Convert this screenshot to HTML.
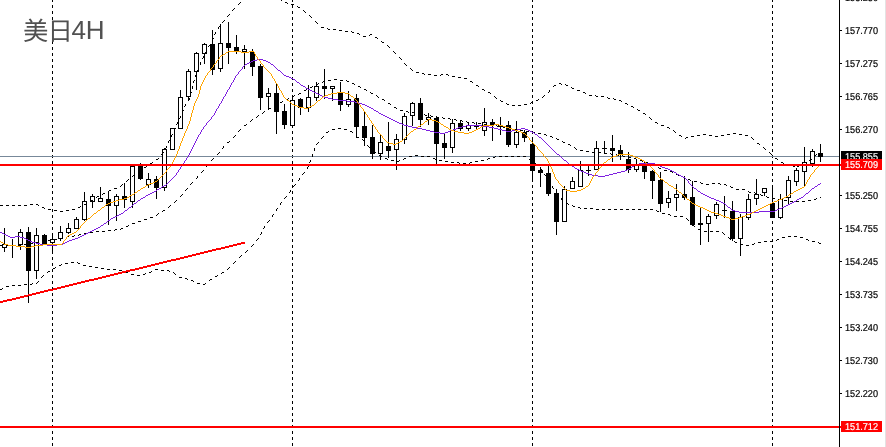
<!DOCTYPE html>
<html lang="zh"><head><meta charset="utf-8"><title>美日4H</title>
<style>html,body{margin:0;padding:0;background:#fff;overflow:hidden}svg{display:block}</style></head>
<body>
<svg width="886" height="447" viewBox="0 0 886 447" shape-rendering="crispEdges">
<rect width="886" height="447" fill="#fff"/>
<rect x="885" y="0" width="1" height="447" fill="#e3e3e3"/>
<line x1="52.5" y1="-1" x2="52.5" y2="447" stroke="#000" stroke-width="1" stroke-dasharray="3 3"/>
<line x1="292.5" y1="-1" x2="292.5" y2="447" stroke="#000" stroke-width="1" stroke-dasharray="3 3"/>
<line x1="532.5" y1="-1" x2="532.5" y2="447" stroke="#000" stroke-width="1" stroke-dasharray="3 3"/>
<line x1="772.5" y1="-1" x2="772.5" y2="447" stroke="#000" stroke-width="1" stroke-dasharray="3 3"/>
<rect x="0" y="156" width="839" height="1" fill="#778899"/>
<rect x="4" y="228" width="1" height="24" fill="#000"/>
<rect x="2" y="244" width="5" height="4" fill="#000"/><rect x="3" y="245" width="3" height="2" fill="#fff"/>
<rect x="12" y="239" width="1" height="19" fill="#000"/>
<rect x="10" y="245" width="5" height="1" fill="#000"/>
<rect x="20" y="229" width="1" height="21" fill="#000"/>
<rect x="18" y="232" width="5" height="13" fill="#000"/><rect x="19" y="233" width="3" height="11" fill="#fff"/>
<rect x="28" y="227" width="1" height="76" fill="#000"/>
<rect x="26" y="232" width="5" height="39" fill="#000"/>
<rect x="36" y="228" width="1" height="51" fill="#000"/>
<rect x="34" y="235" width="5" height="36" fill="#000"/><rect x="35" y="236" width="3" height="34" fill="#fff"/>
<rect x="44" y="234" width="1" height="11" fill="#000"/>
<rect x="42" y="235" width="5" height="9" fill="#000"/>
<rect x="52" y="233" width="1" height="21" fill="#000"/>
<rect x="50" y="239" width="5" height="4" fill="#000"/><rect x="51" y="240" width="3" height="2" fill="#fff"/>
<rect x="60" y="226" width="1" height="15" fill="#000"/>
<rect x="58" y="232" width="5" height="7" fill="#000"/><rect x="59" y="233" width="3" height="5" fill="#fff"/>
<rect x="68" y="223" width="1" height="11" fill="#000"/>
<rect x="66" y="228" width="5" height="5" fill="#000"/><rect x="67" y="229" width="3" height="3" fill="#fff"/>
<rect x="76" y="217" width="1" height="12" fill="#000"/>
<rect x="74" y="219" width="5" height="10" fill="#000"/><rect x="75" y="220" width="3" height="8" fill="#fff"/>
<rect x="84" y="192" width="1" height="29" fill="#000"/>
<rect x="82" y="201" width="5" height="19" fill="#000"/><rect x="83" y="202" width="3" height="17" fill="#fff"/>
<rect x="92" y="194" width="1" height="14" fill="#000"/>
<rect x="90" y="196" width="5" height="6" fill="#000"/><rect x="91" y="197" width="3" height="4" fill="#fff"/>
<rect x="100" y="187" width="1" height="15" fill="#000"/>
<rect x="98" y="198" width="5" height="4" fill="#000"/><rect x="99" y="199" width="3" height="2" fill="#fff"/>
<rect x="108" y="192" width="1" height="33" fill="#000"/>
<rect x="106" y="199" width="5" height="7" fill="#000"/>
<rect x="116" y="194" width="1" height="27" fill="#000"/>
<rect x="114" y="196" width="5" height="10" fill="#000"/><rect x="115" y="197" width="3" height="8" fill="#fff"/>
<rect x="124" y="183" width="1" height="25" fill="#000"/>
<rect x="122" y="196" width="5" height="4" fill="#000"/>
<rect x="132" y="166" width="1" height="42" fill="#000"/>
<rect x="130" y="166" width="5" height="36" fill="#000"/><rect x="131" y="167" width="3" height="34" fill="#fff"/>
<rect x="140" y="163" width="1" height="17" fill="#000"/>
<rect x="138" y="166" width="5" height="13" fill="#000"/>
<rect x="148" y="173" width="1" height="15" fill="#000"/>
<rect x="146" y="179" width="5" height="6" fill="#000"/><rect x="147" y="180" width="3" height="4" fill="#fff"/>
<rect x="156" y="176" width="1" height="23" fill="#000"/>
<rect x="154" y="179" width="5" height="9" fill="#000"/>
<rect x="164" y="148" width="1" height="43" fill="#000"/>
<rect x="162" y="149" width="5" height="39" fill="#000"/><rect x="163" y="150" width="3" height="37" fill="#fff"/>
<rect x="172" y="128" width="1" height="22" fill="#000"/>
<rect x="170" y="128" width="5" height="22" fill="#000"/><rect x="171" y="129" width="3" height="20" fill="#fff"/>
<rect x="180" y="90" width="1" height="39" fill="#000"/>
<rect x="178" y="97" width="5" height="32" fill="#000"/><rect x="179" y="98" width="3" height="30" fill="#fff"/>
<rect x="188" y="69" width="1" height="32" fill="#000"/>
<rect x="186" y="71" width="5" height="26" fill="#000"/><rect x="187" y="72" width="3" height="24" fill="#fff"/>
<rect x="196" y="52" width="1" height="38" fill="#000"/>
<rect x="194" y="53" width="5" height="19" fill="#000"/><rect x="195" y="54" width="3" height="17" fill="#fff"/>
<rect x="204" y="43" width="1" height="21" fill="#000"/>
<rect x="202" y="44" width="5" height="10" fill="#000"/><rect x="203" y="45" width="3" height="8" fill="#fff"/>
<rect x="212" y="30" width="1" height="45" fill="#000"/>
<rect x="210" y="44" width="5" height="26" fill="#000"/>
<rect x="220" y="24" width="1" height="48" fill="#000"/>
<rect x="218" y="43" width="5" height="26" fill="#000"/><rect x="219" y="44" width="3" height="24" fill="#fff"/>
<rect x="228" y="22" width="1" height="42" fill="#000"/>
<rect x="226" y="43" width="5" height="5" fill="#000"/>
<rect x="236" y="35" width="1" height="19" fill="#000"/>
<rect x="234" y="47" width="5" height="4" fill="#000"/>
<rect x="244" y="45" width="1" height="24" fill="#000"/>
<rect x="242" y="49" width="5" height="3" fill="#000"/><rect x="243" y="50" width="3" height="1" fill="#fff"/>
<rect x="252" y="49" width="1" height="27" fill="#000"/>
<rect x="250" y="52" width="5" height="15" fill="#000"/>
<rect x="260" y="64" width="1" height="46" fill="#000"/>
<rect x="258" y="66" width="5" height="32" fill="#000"/>
<rect x="268" y="88" width="1" height="22" fill="#000"/>
<rect x="266" y="93" width="5" height="4" fill="#000"/><rect x="267" y="94" width="3" height="2" fill="#fff"/>
<rect x="276" y="84" width="1" height="50" fill="#000"/>
<rect x="274" y="93" width="5" height="19" fill="#000"/>
<rect x="284" y="104" width="1" height="25" fill="#000"/>
<rect x="282" y="111" width="5" height="14" fill="#000"/>
<rect x="292" y="97" width="1" height="30" fill="#000"/>
<rect x="290" y="100" width="5" height="26" fill="#000"/><rect x="291" y="101" width="3" height="24" fill="#fff"/>
<rect x="300" y="98" width="1" height="17" fill="#000"/>
<rect x="298" y="99" width="5" height="9" fill="#000"/>
<rect x="308" y="85" width="1" height="27" fill="#000"/>
<rect x="306" y="97" width="5" height="11" fill="#000"/><rect x="307" y="98" width="3" height="9" fill="#fff"/>
<rect x="316" y="82" width="1" height="19" fill="#000"/>
<rect x="314" y="86" width="5" height="12" fill="#000"/><rect x="315" y="87" width="3" height="10" fill="#fff"/>
<rect x="324" y="69" width="1" height="30" fill="#000"/>
<rect x="322" y="86" width="5" height="3" fill="#000"/>
<rect x="332" y="86" width="1" height="15" fill="#000"/>
<rect x="330" y="86" width="5" height="3" fill="#000"/><rect x="331" y="87" width="3" height="1" fill="#fff"/>
<rect x="340" y="82" width="1" height="29" fill="#000"/>
<rect x="338" y="92" width="5" height="13" fill="#000"/>
<rect x="348" y="91" width="1" height="16" fill="#000"/>
<rect x="346" y="99" width="5" height="6" fill="#000"/><rect x="347" y="100" width="3" height="4" fill="#fff"/>
<rect x="356" y="94" width="1" height="44" fill="#000"/>
<rect x="354" y="98" width="5" height="29" fill="#000"/>
<rect x="364" y="112" width="1" height="34" fill="#000"/>
<rect x="362" y="126" width="5" height="12" fill="#000"/>
<rect x="372" y="125" width="1" height="34" fill="#000"/>
<rect x="370" y="137" width="5" height="17" fill="#000"/>
<rect x="380" y="134" width="1" height="26" fill="#000"/>
<rect x="378" y="142" width="5" height="12" fill="#000"/><rect x="379" y="143" width="3" height="10" fill="#fff"/>
<rect x="388" y="122" width="1" height="36" fill="#000"/>
<rect x="386" y="146" width="5" height="5" fill="#000"/>
<rect x="396" y="134" width="1" height="36" fill="#000"/>
<rect x="394" y="139" width="5" height="11" fill="#000"/><rect x="395" y="140" width="3" height="9" fill="#fff"/>
<rect x="404" y="113" width="1" height="31" fill="#000"/>
<rect x="402" y="116" width="5" height="24" fill="#000"/><rect x="403" y="117" width="3" height="22" fill="#fff"/>
<rect x="412" y="102" width="1" height="24" fill="#000"/>
<rect x="410" y="103" width="5" height="13" fill="#000"/><rect x="411" y="104" width="3" height="11" fill="#fff"/>
<rect x="420" y="98" width="1" height="29" fill="#000"/>
<rect x="418" y="103" width="5" height="17" fill="#000"/>
<rect x="428" y="113" width="1" height="12" fill="#000"/>
<rect x="426" y="117" width="5" height="3" fill="#000"/><rect x="427" y="118" width="3" height="1" fill="#fff"/>
<rect x="436" y="116" width="1" height="49" fill="#000"/>
<rect x="434" y="118" width="5" height="26" fill="#000"/>
<rect x="444" y="134" width="1" height="25" fill="#000"/>
<rect x="442" y="143" width="5" height="5" fill="#000"/>
<rect x="452" y="119" width="1" height="34" fill="#000"/>
<rect x="450" y="123" width="5" height="25" fill="#000"/><rect x="451" y="124" width="3" height="23" fill="#fff"/>
<rect x="460" y="121" width="1" height="10" fill="#000"/>
<rect x="458" y="123" width="5" height="6" fill="#000"/>
<rect x="468" y="122" width="1" height="9" fill="#000"/>
<rect x="466" y="125" width="5" height="4" fill="#000"/><rect x="467" y="126" width="3" height="2" fill="#fff"/>
<rect x="476" y="122" width="1" height="8" fill="#000"/>
<rect x="474" y="126" width="5" height="1" fill="#000"/>
<rect x="484" y="108" width="1" height="28" fill="#000"/>
<rect x="482" y="122" width="5" height="9" fill="#000"/><rect x="483" y="123" width="3" height="7" fill="#fff"/>
<rect x="492" y="119" width="1" height="22" fill="#000"/>
<rect x="490" y="122" width="5" height="3" fill="#000"/>
<rect x="500" y="117" width="1" height="18" fill="#000"/>
<rect x="498" y="125" width="5" height="2" fill="#000"/>
<rect x="508" y="121" width="1" height="26" fill="#000"/>
<rect x="506" y="125" width="5" height="20" fill="#000"/>
<rect x="516" y="121" width="1" height="27" fill="#000"/>
<rect x="514" y="132" width="5" height="13" fill="#000"/><rect x="515" y="133" width="3" height="11" fill="#fff"/>
<rect x="524" y="130" width="1" height="12" fill="#000"/>
<rect x="522" y="132" width="5" height="6" fill="#000"/>
<rect x="532" y="140" width="1" height="40" fill="#000"/>
<rect x="530" y="144" width="5" height="27" fill="#000"/>
<rect x="540" y="167" width="1" height="20" fill="#000"/>
<rect x="538" y="170" width="5" height="3" fill="#000"/>
<rect x="548" y="166" width="1" height="30" fill="#000"/>
<rect x="546" y="173" width="5" height="21" fill="#000"/>
<rect x="556" y="189" width="1" height="46" fill="#000"/>
<rect x="554" y="193" width="5" height="29" fill="#000"/>
<rect x="564" y="186" width="1" height="36" fill="#000"/>
<rect x="562" y="189" width="5" height="33" fill="#000"/><rect x="563" y="190" width="3" height="31" fill="#fff"/>
<rect x="572" y="177" width="1" height="12" fill="#000"/>
<rect x="570" y="181" width="5" height="8" fill="#000"/><rect x="571" y="182" width="3" height="6" fill="#fff"/>
<rect x="580" y="161" width="1" height="26" fill="#000"/>
<rect x="578" y="170" width="5" height="17" fill="#000"/><rect x="579" y="171" width="3" height="15" fill="#fff"/>
<rect x="588" y="166" width="1" height="10" fill="#000"/>
<rect x="586" y="170" width="5" height="1" fill="#000"/>
<rect x="596" y="141" width="1" height="29" fill="#000"/>
<rect x="594" y="148" width="5" height="22" fill="#000"/><rect x="595" y="149" width="3" height="20" fill="#fff"/>
<rect x="604" y="141" width="1" height="13" fill="#000"/>
<rect x="602" y="148" width="5" height="1" fill="#000"/>
<rect x="612" y="135" width="1" height="27" fill="#000"/>
<rect x="610" y="148" width="5" height="3" fill="#000"/>
<rect x="620" y="145" width="1" height="15" fill="#000"/>
<rect x="618" y="150" width="5" height="5" fill="#000"/>
<rect x="628" y="152" width="1" height="21" fill="#000"/>
<rect x="626" y="159" width="5" height="11" fill="#000"/>
<rect x="636" y="159" width="1" height="13" fill="#000"/>
<rect x="634" y="165" width="5" height="5" fill="#000"/><rect x="635" y="166" width="3" height="3" fill="#fff"/>
<rect x="644" y="162" width="1" height="17" fill="#000"/>
<rect x="642" y="164" width="5" height="8" fill="#000"/>
<rect x="652" y="170" width="1" height="29" fill="#000"/>
<rect x="650" y="171" width="5" height="10" fill="#000"/>
<rect x="660" y="172" width="1" height="40" fill="#000"/>
<rect x="658" y="180" width="5" height="24" fill="#000"/>
<rect x="668" y="191" width="1" height="17" fill="#000"/>
<rect x="666" y="198" width="5" height="5" fill="#000"/><rect x="667" y="199" width="3" height="3" fill="#fff"/>
<rect x="676" y="184" width="1" height="27" fill="#000"/>
<rect x="674" y="194" width="5" height="4" fill="#000"/><rect x="675" y="195" width="3" height="2" fill="#fff"/>
<rect x="684" y="176" width="1" height="24" fill="#000"/>
<rect x="682" y="194" width="5" height="4" fill="#000"/>
<rect x="692" y="181" width="1" height="45" fill="#000"/>
<rect x="690" y="197" width="5" height="28" fill="#000"/>
<rect x="700" y="208" width="1" height="37" fill="#000"/>
<rect x="698" y="223" width="5" height="2" fill="#000"/>
<rect x="708" y="214" width="1" height="28" fill="#000"/>
<rect x="706" y="216" width="5" height="8" fill="#000"/><rect x="707" y="217" width="3" height="6" fill="#fff"/>
<rect x="716" y="202" width="1" height="17" fill="#000"/>
<rect x="714" y="204" width="5" height="12" fill="#000"/><rect x="715" y="205" width="3" height="10" fill="#fff"/>
<rect x="724" y="196" width="1" height="22" fill="#000"/>
<rect x="722" y="210" width="5" height="1" fill="#000"/>
<rect x="732" y="201" width="1" height="40" fill="#000"/>
<rect x="730" y="211" width="5" height="28" fill="#000"/>
<rect x="740" y="214" width="1" height="42" fill="#000"/>
<rect x="738" y="217" width="5" height="22" fill="#000"/><rect x="739" y="218" width="3" height="20" fill="#fff"/>
<rect x="748" y="194" width="1" height="26" fill="#000"/>
<rect x="746" y="199" width="5" height="19" fill="#000"/><rect x="747" y="200" width="3" height="17" fill="#fff"/>
<rect x="756" y="179" width="1" height="26" fill="#000"/>
<rect x="754" y="194" width="5" height="5" fill="#000"/><rect x="755" y="195" width="3" height="3" fill="#fff"/>
<rect x="764" y="188" width="1" height="8" fill="#000"/>
<rect x="762" y="188" width="5" height="5" fill="#000"/><rect x="763" y="189" width="3" height="3" fill="#fff"/>
<rect x="772" y="186" width="1" height="32" fill="#000"/>
<rect x="770" y="203" width="5" height="15" fill="#000"/>
<rect x="780" y="194" width="1" height="25" fill="#000"/>
<rect x="778" y="199" width="5" height="19" fill="#000"/><rect x="779" y="200" width="3" height="17" fill="#fff"/>
<rect x="788" y="176" width="1" height="29" fill="#000"/>
<rect x="786" y="180" width="5" height="18" fill="#000"/><rect x="787" y="181" width="3" height="16" fill="#fff"/>
<rect x="796" y="168" width="1" height="18" fill="#000"/>
<rect x="794" y="170" width="5" height="12" fill="#000"/><rect x="795" y="171" width="3" height="10" fill="#fff"/>
<rect x="804" y="147" width="1" height="39" fill="#000"/>
<rect x="802" y="162" width="5" height="10" fill="#000"/><rect x="803" y="163" width="3" height="8" fill="#fff"/>
<rect x="812" y="149" width="1" height="18" fill="#000"/>
<rect x="810" y="151" width="5" height="13" fill="#000"/><rect x="811" y="152" width="3" height="11" fill="#fff"/>
<rect x="820" y="144" width="1" height="18" fill="#000"/>
<rect x="818" y="153" width="5" height="4" fill="#000"/>
<path d="M240 2h1v1h-1zM239 3h1v1h-1zM238 4h1v1h-1zM234 8h1v1h-1zM233 9h1v1h-1zM232 10h1v1h-1zM229 14h1v1h-1zM228 15h1v1h-1zM227 16h1v1h-1zM224 20h1v1h-1zM223 21h1v1h-1zM222 22h1v1h-1zM219 26h1v1h-1zM218 27h1v2h-1zM215 32h1v2h-1zM214 34h1v1h-1zM213 38h1v1h-1zM212 39h1v2h-1zM210 44h1v1h-1zM209 45h1v1h-1zM208 46h1v1h-1zM206 50h1v2h-1zM205 52h1v1h-1zM203 56h1v2h-1zM202 58h1v1h-1zM200 62h1v3h-1zM198 68h1v2h-1zM197 70h1v1h-1zM196 74h1v1h-1zM195 75h1v2h-1zM194 80h1v1h-1zM193 81h1v2h-1zM192 86h1v3h-1zM191 92h1v1h-1zM190 93h1v2h-1zM189 98h1v2h-1zM188 100h1v1h-1zM185 104h1v2h-1zM184 106h1v1h-1zM183 110h1v1h-1zM182 111h1v2h-1zM180 116h1v2h-1zM179 118h1v1h-1zM177 122h1v2h-1zM176 124h1v1h-1zM175 128h1v1h-1zM174 129h1v2h-1zM172 134h1v1h-1zM171 135h1v2h-1zM169 140h1v1h-1zM168 141h1v2h-1zM166 146h1v2h-1zM165 148h1v1h-1zM163 152h1v1h-1zM162 153h1v1h-1zM161 154h1v1h-1zM158 158h1v1h-1zM156 159h2v1h-2zM152 162h1v1h-1zM150 163h2v1h-2zM146 166h1v1h-1zM144 167h2v1h-2zM140 170h1v1h-1zM138 171h2v1h-2zM134 174h1v1h-1zM133 175h1v1h-1zM132 176h1v1h-1zM128 179h1v1h-1zM127 180h1v1h-1zM126 181h1v1h-1zM122 184h1v1h-1zM121 185h1v1h-1zM120 186h1v1h-1zM114 188h3v1h-3zM109 190h2v1h-2zM108 191h1v1h-1zM103 193h2v1h-2zM102 194h1v1h-1zM97 196h2v1h-2zM96 197h1v1h-1zM91 200h2v1h-2zM90 201h1v1h-1zM86 203h1v1h-1zM30 204h3v1h-3zM36 204h2v1h-2zM84 204h2v1h-2zM0 205h3v1h-3zM6 205h3v1h-3zM12 205h3v1h-3zM18 205h3v1h-3zM24 205h3v1h-3zM38 205h1v1h-1zM80 206h1v1h-1zM42 207h2v1h-2zM78 207h2v1h-2zM44 208h1v1h-1zM48 209h3v1h-3zM72 209h3v1h-3zM54 210h3v1h-3zM66 210h3v1h-3zM60 211h3v1h-3z" fill="#000"/>
<path d="M279 -1h2v1h-2zM281 0h1v1h-1zM285 2h2v1h-2zM287 3h1v1h-1zM291 4h3v1h-3zM297 6h1v1h-1zM298 7h2v1h-2zM303 10h1v1h-1zM304 11h1v1h-1zM305 12h1v1h-1zM309 15h1v1h-1zM310 16h1v1h-1zM311 17h1v1h-1zM315 21h1v1h-1zM316 22h1v1h-1zM317 23h1v1h-1zM321 27h3v1h-3zM327 28h1v1h-1zM328 29h2v1h-2zM333 29h3v1h-3zM339 30h3v1h-3zM345 31h3v1h-3zM351 31h1v1h-1zM352 32h2v1h-2zM357 33h2v1h-2zM359 34h1v1h-1zM370 34h2v1h-2zM369 35h1v1h-1zM363 36h3v1h-3zM375 37h2v1h-2zM377 38h1v1h-1zM381 41h1v1h-1zM382 42h2v1h-2zM387 45h1v1h-1zM388 46h1v1h-1zM389 47h1v1h-1zM393 51h1v1h-1zM394 52h1v1h-1zM395 53h1v1h-1zM399 57h1v1h-1zM400 58h1v1h-1zM401 59h1v1h-1zM404 63h1v1h-1zM405 64h1v1h-1zM406 65h1v1h-1zM410 68h1v1h-1zM411 69h1v1h-1zM412 70h1v1h-1zM416 72h3v1h-3zM422 73h2v1h-2zM424 74h1v1h-1zM428 74h3v1h-3zM441 74h2v1h-2zM446 74h2v1h-2zM434 75h3v1h-3zM440 75h1v1h-1zM448 75h1v1h-1zM452 76h3v1h-3zM458 77h3v1h-3zM464 78h3v1h-3zM470 81h2v1h-2zM472 82h1v1h-1zM559 83h2v1h-2zM561 84h1v1h-1zM565 84h1v1h-1zM476 85h2v1h-2zM554 85h2v1h-2zM566 85h2v1h-2zM478 86h1v1h-1zM553 86h1v1h-1zM571 87h1v1h-1zM572 88h2v1h-2zM482 89h2v1h-2zM484 90h1v1h-1zM549 90h1v2h-1zM577 90h3v1h-3zM488 92h2v1h-2zM548 92h1v1h-1zM583 92h2v1h-2zM490 93h1v1h-1zM585 93h1v1h-1zM544 95h1v1h-1zM589 95h3v1h-3zM595 95h1v1h-1zM494 96h1v1h-1zM543 96h1v1h-1zM596 96h2v1h-2zM601 96h3v1h-3zM495 97h1v1h-1zM542 97h1v1h-1zM607 97h1v1h-1zM496 98h1v1h-1zM608 98h2v1h-2zM613 98h1v1h-1zM538 99h1v1h-1zM614 99h2v1h-2zM500 100h1v1h-1zM536 100h2v1h-2zM619 100h2v1h-2zM501 101h2v1h-2zM621 101h1v1h-1zM531 102h2v1h-2zM506 103h1v1h-1zM530 103h1v1h-1zM625 103h2v1h-2zM507 104h2v1h-2zM524 104h3v1h-3zM627 104h1v1h-1zM512 105h3v1h-3zM518 105h3v1h-3zM631 106h2v1h-2zM633 107h1v1h-1zM637 109h1v1h-1zM638 110h2v1h-2zM643 113h2v1h-2zM645 114h1v1h-1zM649 117h1v1h-1zM650 118h1v1h-1zM651 119h1v1h-1zM655 122h2v1h-2zM657 123h1v1h-1zM661 125h3v1h-3zM667 127h2v1h-2zM669 128h1v1h-1zM673 130h1v1h-1zM674 131h1v1h-1zM675 132h1v1h-1zM733 133h3v1h-3zM703 134h3v1h-3zM727 134h3v1h-3zM739 134h3v1h-3zM679 135h2v1h-2zM697 135h3v1h-3zM709 135h3v1h-3zM721 135h3v1h-3zM745 135h3v1h-3zM681 136h1v1h-1zM691 136h3v1h-3zM715 136h3v1h-3zM686 137h2v1h-2zM751 137h1v1h-1zM685 138h1v1h-1zM752 138h1v1h-1zM753 139h1v1h-1zM757 143h2v1h-2zM759 144h1v1h-1zM763 147h1v1h-1zM764 148h1v1h-1zM765 149h1v1h-1zM769 152h1v1h-1zM770 153h1v1h-1zM771 154h1v1h-1zM775 158h2v1h-2zM777 159h1v1h-1zM781 162h2v1h-2zM783 163h1v1h-1z" fill="#000"/>
<path d="M334 79h3v1h-3zM328 80h3v1h-3zM340 80h3v1h-3zM346 80h1v1h-1zM323 81h2v1h-2zM347 81h2v1h-2zM322 82h1v1h-1zM318 83h1v1h-1zM352 83h2v1h-2zM316 84h2v1h-2zM354 84h1v1h-1zM312 86h1v1h-1zM358 86h2v1h-2zM310 87h2v1h-2zM360 87h1v1h-1zM306 89h1v1h-1zM364 89h2v1h-2zM304 90h2v1h-2zM366 90h1v1h-1zM370 92h1v1h-1zM299 93h2v1h-2zM371 93h2v1h-2zM298 94h1v1h-1zM294 95h1v1h-1zM376 95h1v1h-1zM292 96h2v1h-2zM377 96h1v1h-1zM378 97h1v1h-1zM288 98h1v1h-1zM286 99h2v1h-2zM382 99h2v1h-2zM384 100h1v1h-1zM282 101h1v1h-1zM280 102h2v1h-2zM388 103h2v1h-2zM276 104h1v1h-1zM390 104h1v1h-1zM274 105h2v1h-2zM394 107h2v1h-2zM269 108h2v1h-2zM396 108h1v1h-1zM268 109h1v1h-1zM400 110h3v1h-3zM264 111h1v1h-1zM406 111h2v1h-2zM263 112h1v1h-1zM408 112h1v1h-1zM412 112h2v1h-2zM262 113h1v1h-1zM414 113h1v1h-1zM418 113h2v1h-2zM420 114h1v1h-1zM424 114h1v1h-1zM258 115h1v1h-1zM425 115h2v1h-2zM430 115h1v1h-1zM257 116h1v1h-1zM431 116h2v1h-2zM436 116h1v1h-1zM256 117h1v1h-1zM437 117h2v1h-2zM442 117h1v1h-1zM443 118h2v1h-2zM448 118h2v1h-2zM252 119h1v1h-1zM450 119h1v1h-1zM454 119h2v1h-2zM251 120h1v1h-1zM456 120h1v1h-1zM460 120h2v1h-2zM250 121h1v1h-1zM462 121h1v1h-1zM466 121h1v1h-1zM467 122h2v1h-2zM472 122h2v1h-2zM474 123h1v1h-1zM478 123h3v1h-3zM246 124h1v1h-1zM484 124h3v1h-3zM244 125h2v1h-2zM490 125h3v1h-3zM496 125h1v1h-1zM497 126h2v1h-2zM502 126h1v1h-1zM503 127h2v1h-2zM508 128h3v1h-3zM240 129h1v1h-1zM514 129h3v1h-3zM239 130h1v1h-1zM520 130h3v1h-3zM238 131h1v1h-1zM526 131h3v1h-3zM532 132h3v1h-3zM538 133h3v1h-3zM544 134h2v1h-2zM235 135h1v1h-1zM546 135h1v1h-1zM234 136h1v1h-1zM550 136h2v1h-2zM233 137h1v1h-1zM552 137h1v1h-1zM556 138h1v1h-1zM557 139h2v1h-2zM229 141h1v1h-1zM562 141h1v1h-1zM227 142h2v1h-2zM563 142h2v1h-2zM568 144h2v1h-2zM570 145h1v1h-1zM223 146h1v2h-1zM574 147h1v1h-1zM222 148h1v1h-1zM575 148h1v1h-1zM576 149h1v1h-1zM580 150h3v1h-3zM586 151h3v1h-3zM219 152h1v1h-1zM592 152h3v1h-3zM598 152h3v1h-3zM604 152h1v1h-1zM218 153h1v1h-1zM605 153h2v1h-2zM610 153h1v1h-1zM217 154h1v1h-1zM611 154h2v1h-2zM616 154h1v1h-1zM617 155h2v1h-2zM622 155h1v1h-1zM623 156h2v1h-2zM628 157h3v1h-3zM213 158h1v1h-1zM634 158h2v1h-2zM212 159h1v1h-1zM636 159h1v1h-1zM211 160h1v1h-1zM640 160h2v1h-2zM642 161h1v1h-1zM646 162h2v1h-2zM648 163h1v1h-1zM208 164h1v1h-1zM652 164h1v1h-1zM207 165h1v1h-1zM653 165h2v1h-2zM206 166h1v1h-1zM658 167h1v1h-1zM659 168h2v1h-2zM203 170h1v1h-1zM664 170h3v1h-3zM202 171h1v1h-1zM670 171h2v1h-2zM201 172h1v1h-1zM672 172h1v1h-1zM676 174h2v1h-2zM678 175h1v1h-1zM197 176h1v2h-1zM682 176h1v1h-1zM683 177h2v1h-2zM196 178h1v1h-1zM688 179h2v1h-2zM690 180h1v1h-1zM694 181h3v1h-3zM192 182h1v1h-1zM700 182h1v1h-1zM191 183h1v1h-1zM701 183h2v1h-2zM712 183h3v1h-3zM718 183h2v1h-2zM190 184h1v1h-1zM706 184h3v1h-3zM720 184h1v1h-1zM724 184h2v1h-2zM726 185h1v1h-1zM730 186h1v1h-1zM731 187h2v1h-2zM187 188h1v1h-1zM186 189h1v1h-1zM736 189h3v1h-3zM742 189h3v1h-3zM185 190h1v1h-1zM748 191h1v1h-1zM749 192h2v1h-2zM754 192h1v1h-1zM755 193h2v1h-2zM182 194h1v1h-1zM760 194h1v1h-1zM181 195h1v1h-1zM761 195h2v1h-2zM180 196h1v1h-1zM766 196h1v1h-1zM767 197h2v1h-2zM820 197h1v1h-1zM772 198h3v1h-3zM816 198h1v1h-1zM778 199h3v1h-3zM814 199h2v1h-2zM176 200h1v1h-1zM784 200h3v1h-3zM808 200h3v1h-3zM175 201h1v1h-1zM790 201h3v1h-3zM796 201h3v1h-3zM802 201h3v1h-3zM174 202h1v1h-1zM170 205h1v1h-1zM169 206h1v1h-1zM168 207h1v1h-1zM163 210h2v1h-2zM162 211h1v1h-1zM158 213h1v1h-1zM157 214h1v1h-1zM156 215h1v1h-1zM150 217h3v1h-3zM144 219h3v1h-3zM138 221h3v1h-3zM132 223h3v1h-3zM128 225h1v1h-1zM126 226h2v1h-2zM121 228h2v1h-2zM115 229h2v1h-2zM120 229h1v1h-1zM108 230h3v1h-3zM114 230h1v1h-1zM96 231h3v1h-3zM102 231h3v1h-3zM90 232h3v1h-3zM84 233h3v1h-3zM79 234h2v1h-2zM74 235h1v1h-1zM78 235h1v1h-1zM67 236h2v1h-2zM72 236h2v1h-2zM62 237h1v1h-1zM66 237h1v1h-1zM60 238h2v1h-2zM54 239h3v1h-3zM48 240h3v1h-3zM42 241h3v1h-3zM36 242h3v1h-3zM30 243h3v1h-3zM24 244h3v1h-3zM0 245h3v1h-3zM6 245h3v1h-3zM12 245h3v1h-3zM18 245h3v1h-3z" fill="#000"/>
<path d="M338 128h3v1h-3zM332 129h3v1h-3zM344 129h3v1h-3zM328 131h1v1h-1zM350 131h2v1h-2zM326 132h2v1h-2zM352 132h1v1h-1zM323 136h1v1h-1zM356 136h1v1h-1zM322 137h1v1h-1zM357 137h2v1h-2zM321 138h1v1h-1zM362 139h1v1h-1zM363 140h1v1h-1zM364 141h1v1h-1zM318 142h1v1h-1zM317 143h1v1h-1zM316 144h1v1h-1zM367 145h1v1h-1zM368 146h1v1h-1zM369 147h1v1h-1zM314 148h1v3h-1zM373 151h1v1h-1zM374 152h2v1h-2zM312 154h1v3h-1zM379 155h2v1h-2zM415 155h3v1h-3zM381 156h1v1h-1zM409 156h3v1h-3zM421 156h3v1h-3zM427 156h3v1h-3zM495 156h1v1h-1zM499 156h3v1h-3zM505 156h3v1h-3zM511 156h3v1h-3zM517 156h3v1h-3zM523 156h3v1h-3zM493 157h2v1h-2zM385 158h2v1h-2zM404 158h2v1h-2zM433 158h2v1h-2zM488 158h2v1h-2zM387 159h1v1h-1zM403 159h1v1h-1zM435 159h1v1h-1zM487 159h1v1h-1zM529 159h2v1h-2zM310 160h1v2h-1zM391 160h3v1h-3zM399 160h1v1h-1zM439 160h3v1h-3zM481 160h3v1h-3zM531 160h1v1h-1zM397 161h2v1h-2zM445 161h3v1h-3zM475 161h3v1h-3zM309 162h1v1h-1zM451 162h3v1h-3zM457 162h2v1h-2zM470 162h2v1h-2zM459 163h1v1h-1zM463 163h3v1h-3zM469 163h1v1h-1zM535 163h1v1h-1zM536 164h1v1h-1zM537 165h1v1h-1zM308 166h1v1h-1zM307 167h1v2h-1zM540 168h1v1h-1zM541 169h1v1h-1zM542 170h1v1h-1zM304 172h1v1h-1zM303 173h1v1h-1zM302 174h1v1h-1zM544 174h1v1h-1zM545 175h1v1h-1zM546 176h1v1h-1zM299 178h1v2h-1zM298 180h1v1h-1zM548 180h1v1h-1zM549 181h1v2h-1zM295 184h1v1h-1zM294 185h1v1h-1zM293 186h1v1h-1zM552 186h1v2h-1zM553 188h1v1h-1zM290 190h1v2h-1zM289 192h1v1h-1zM556 192h1v2h-1zM557 194h1v1h-1zM286 196h1v1h-1zM285 197h1v1h-1zM284 198h1v1h-1zM561 198h1v2h-1zM562 200h1v1h-1zM281 202h1v1h-1zM280 203h1v2h-1zM566 203h2v1h-2zM568 204h1v1h-1zM572 205h1v1h-1zM573 206h2v1h-2zM578 207h2v1h-2zM277 208h1v1h-1zM580 208h1v1h-1zM584 208h3v1h-3zM590 208h3v1h-3zM276 209h1v2h-1zM596 209h3v1h-3zM602 209h3v1h-3zM608 209h3v1h-3zM614 209h3v1h-3zM620 209h3v1h-3zM626 209h3v1h-3zM632 209h3v1h-3zM638 209h3v1h-3zM644 209h3v1h-3zM650 209h3v1h-3zM656 210h1v1h-1zM657 211h2v1h-2zM662 213h3v1h-3zM273 214h1v1h-1zM668 214h2v1h-2zM272 215h1v2h-1zM670 215h1v1h-1zM674 216h3v1h-3zM680 216h3v1h-3zM686 218h1v1h-1zM687 219h1v1h-1zM269 220h1v1h-1zM688 220h1v1h-1zM268 221h1v1h-1zM267 222h1v1h-1zM692 224h1v1h-1zM693 225h1v1h-1zM264 226h1v2h-1zM694 226h1v1h-1zM263 228h1v1h-1zM698 229h2v1h-2zM700 230h1v1h-1zM704 231h3v1h-3zM710 231h3v1h-3zM716 231h3v1h-3zM261 232h1v2h-1zM722 232h1v1h-1zM723 233h1v1h-1zM260 234h1v1h-1zM724 234h1v1h-1zM788 236h3v1h-3zM794 236h3v1h-3zM728 237h1v1h-1zM782 237h3v1h-3zM800 237h3v1h-3zM258 238h1v1h-1zM729 238h1v1h-1zM257 239h1v1h-1zM730 239h1v1h-1zM777 239h2v1h-2zM806 239h2v1h-2zM256 240h1v1h-1zM776 240h1v1h-1zM808 240h1v1h-1zM734 241h1v1h-1zM764 241h3v1h-3zM770 241h3v1h-3zM812 241h3v1h-3zM735 242h2v1h-2zM758 242h3v1h-3zM818 242h1v1h-1zM740 243h1v1h-1zM754 243h1v1h-1zM819 243h2v1h-2zM253 244h1v1h-1zM741 244h2v1h-2zM752 244h2v1h-2zM252 245h1v1h-1zM746 245h3v1h-3zM251 246h1v1h-1zM247 250h1v1h-1zM246 251h1v1h-1zM245 252h1v1h-1zM241 255h1v1h-1zM240 256h1v1h-1zM239 257h1v1h-1zM235 261h1v1h-1zM71 262h3v1h-3zM77 262h1v1h-1zM234 262h1v1h-1zM65 263h3v1h-3zM78 263h2v1h-2zM233 263h1v1h-1zM61 264h1v1h-1zM59 265h2v1h-2zM83 265h3v1h-3zM89 266h3v1h-3zM55 267h1v1h-1zM95 267h3v1h-3zM229 267h1v1h-1zM53 268h2v1h-2zM101 268h3v1h-3zM228 268h1v1h-1zM107 269h3v1h-3zM113 269h3v1h-3zM155 269h3v1h-3zM227 269h1v1h-1zM119 270h3v1h-3zM161 270h3v1h-3zM167 270h2v1h-2zM48 271h2v1h-2zM151 271h1v1h-1zM169 271h1v1h-1zM47 272h1v1h-1zM125 272h3v1h-3zM149 272h2v1h-2zM173 272h1v1h-1zM222 272h2v1h-2zM145 273h1v1h-1zM174 273h1v1h-1zM221 273h1v1h-1zM131 274h3v1h-3zM143 274h2v1h-2zM175 274h1v1h-1zM43 275h1v1h-1zM137 275h3v1h-3zM217 275h1v1h-1zM42 276h1v1h-1zM215 276h2v1h-2zM41 277h1v1h-1zM179 277h3v1h-3zM185 278h2v1h-2zM187 279h1v1h-1zM210 279h2v1h-2zM191 280h2v1h-2zM209 280h1v1h-1zM38 281h1v1h-1zM193 281h1v1h-1zM37 282h1v1h-1zM32 283h1v1h-1zM36 283h1v1h-1zM197 283h3v1h-3zM205 283h1v1h-1zM24 284h3v1h-3zM30 284h2v1h-2zM203 284h2v1h-2zM12 285h3v1h-3zM18 285h3v1h-3zM6 286h3v1h-3zM2 288h1v1h-1zM0 289h2v1h-2z" fill="#000"/>
<path d="M793 166h2v1h-2z" fill="#000"/>
<path d="M797 166h2v1h-2z" fill="#000"/>
<path d="M811 159h1v1h-1zM809 160h2v1h-2z" fill="#000"/>
<path d="M816 154h1v1h-1zM815 155h1v1h-1z" fill="#000"/>
<path d="M257 59h6v1h-6zM253 60h4v1h-4zM263 60h3v1h-3zM251 61h2v1h-2zM266 61h2v1h-2zM249 62h2v1h-2zM268 62h2v1h-2zM247 63h2v1h-2zM270 63h1v1h-1zM245 64h2v1h-2zM271 64h2v1h-2zM244 65h1v1h-1zM273 65h1v1h-1zM243 66h1v1h-1zM274 66h1v1h-1zM242 67h1v2h-1zM275 67h1v1h-1zM276 68h1v1h-1zM241 69h1v1h-1zM277 69h1v1h-1zM240 70h1v1h-1zM278 70h2v1h-2zM239 71h1v1h-1zM280 71h1v1h-1zM238 72h1v2h-1zM281 72h1v1h-1zM282 73h1v1h-1zM237 74h1v1h-1zM283 74h1v1h-1zM236 75h1v1h-1zM284 75h2v1h-2zM235 76h1v2h-1zM286 76h3v1h-3zM289 77h2v1h-2zM234 78h1v2h-1zM291 78h2v1h-2zM293 79h2v1h-2zM233 80h1v2h-1zM295 80h1v1h-1zM296 81h1v1h-1zM232 82h1v1h-1zM297 82h2v1h-2zM231 83h1v2h-1zM299 83h1v1h-1zM300 84h1v1h-1zM230 85h1v2h-1zM301 85h2v1h-2zM303 86h2v1h-2zM229 87h1v2h-1zM305 87h1v1h-1zM306 88h2v1h-2zM228 89h1v1h-1zM308 89h2v1h-2zM227 90h1v2h-1zM310 90h2v1h-2zM312 91h2v1h-2zM226 92h1v2h-1zM314 92h2v1h-2zM316 93h2v1h-2zM225 94h1v2h-1zM318 94h2v1h-2zM320 95h2v1h-2zM224 96h1v1h-1zM322 96h2v1h-2zM223 97h1v2h-1zM324 97h4v1h-4zM328 98h4v1h-4zM222 99h1v2h-1zM332 99h6v1h-6zM338 100h9v1h-9zM221 101h1v2h-1zM347 101h8v1h-8zM355 102h4v1h-4zM220 103h1v1h-1zM359 103h3v1h-3zM219 104h1v2h-1zM362 104h3v1h-3zM365 105h2v1h-2zM218 106h1v2h-1zM367 106h2v1h-2zM369 107h2v1h-2zM217 108h1v1h-1zM371 108h2v1h-2zM216 109h1v2h-1zM373 109h1v1h-1zM374 110h2v1h-2zM215 111h1v2h-1zM376 111h2v1h-2zM378 112h1v1h-1zM214 113h1v2h-1zM379 113h2v1h-2zM381 114h2v1h-2zM213 115h1v1h-1zM383 115h2v1h-2zM212 116h1v1h-1zM385 116h2v1h-2zM211 117h1v2h-1zM387 117h2v1h-2zM389 118h2v1h-2zM210 119h1v1h-1zM391 119h2v1h-2zM209 120h1v1h-1zM393 120h2v1h-2zM208 121h1v1h-1zM395 121h2v1h-2zM207 122h1v1h-1zM397 122h2v1h-2zM206 123h1v2h-1zM399 123h3v1h-3zM402 124h2v1h-2zM205 125h1v1h-1zM404 125h4v1h-4zM466 125h16v1h-16zM204 126h1v1h-1zM408 126h4v1h-4zM462 126h4v1h-4zM482 126h7v1h-7zM203 127h1v2h-1zM412 127h5v1h-5zM458 127h4v1h-4zM489 127h5v1h-5zM417 128h5v1h-5zM456 128h2v1h-2zM494 128h4v1h-4zM521 128h4v1h-4zM202 129h1v1h-1zM422 129h4v1h-4zM453 129h3v1h-3zM498 129h4v1h-4zM517 129h4v1h-4zM525 129h3v1h-3zM201 130h1v2h-1zM426 130h4v1h-4zM450 130h3v1h-3zM502 130h4v1h-4zM512 130h5v1h-5zM528 130h2v1h-2zM430 131h4v1h-4zM448 131h2v1h-2zM506 131h6v1h-6zM530 131h2v1h-2zM200 132h1v2h-1zM434 132h6v1h-6zM445 132h3v1h-3zM532 132h2v1h-2zM440 133h5v1h-5zM534 133h1v1h-1zM199 134h1v1h-1zM535 134h2v1h-2zM198 135h1v2h-1zM537 135h1v1h-1zM538 136h1v1h-1zM197 137h1v2h-1zM539 137h2v1h-2zM541 138h1v1h-1zM196 139h1v2h-1zM542 139h1v1h-1zM543 140h1v1h-1zM195 141h1v2h-1zM544 141h1v1h-1zM545 142h1v1h-1zM194 143h1v2h-1zM546 143h1v1h-1zM547 144h1v1h-1zM193 145h1v2h-1zM548 145h1v1h-1zM549 146h1v1h-1zM192 147h1v2h-1zM550 147h1v1h-1zM551 148h1v1h-1zM191 149h1v2h-1zM552 149h1v1h-1zM553 150h1v1h-1zM190 151h1v2h-1zM554 151h1v1h-1zM555 152h1v1h-1zM189 153h1v2h-1zM556 153h1v1h-1zM557 154h2v1h-2zM188 155h1v2h-1zM559 155h1v1h-1zM560 156h1v1h-1zM187 157h1v1h-1zM561 157h1v1h-1zM186 158h1v2h-1zM562 158h1v1h-1zM563 159h1v1h-1zM185 160h1v1h-1zM564 160h2v1h-2zM184 161h1v2h-1zM566 161h1v1h-1zM567 162h1v1h-1zM183 163h1v1h-1zM568 163h1v1h-1zM639 163h16v1h-16zM182 164h1v2h-1zM569 164h1v1h-1zM636 164h3v1h-3zM655 164h2v1h-2zM570 165h2v1h-2zM634 165h2v1h-2zM657 165h3v1h-3zM181 166h1v1h-1zM572 166h2v1h-2zM632 166h2v1h-2zM660 166h2v1h-2zM180 167h1v2h-1zM574 167h1v1h-1zM631 167h1v1h-1zM662 167h3v1h-3zM575 168h2v1h-2zM629 168h2v1h-2zM665 168h3v1h-3zM179 169h1v1h-1zM577 169h2v1h-2zM627 169h2v1h-2zM668 169h2v1h-2zM178 170h1v2h-1zM579 170h2v1h-2zM625 170h2v1h-2zM670 170h2v1h-2zM581 171h3v1h-3zM621 171h4v1h-4zM672 171h2v1h-2zM177 172h1v1h-1zM584 172h2v1h-2zM617 172h4v1h-4zM674 172h2v1h-2zM176 173h1v2h-1zM586 173h3v1h-3zM613 173h4v1h-4zM676 173h1v1h-1zM589 174h3v1h-3zM609 174h4v1h-4zM677 174h2v1h-2zM175 175h1v1h-1zM592 175h6v1h-6zM605 175h4v1h-4zM679 175h2v1h-2zM174 176h1v1h-1zM598 176h7v1h-7zM681 176h2v1h-2zM173 177h1v1h-1zM683 177h2v1h-2zM172 178h1v1h-1zM685 178h1v1h-1zM171 179h1v1h-1zM686 179h1v1h-1zM170 180h1v1h-1zM687 180h1v1h-1zM169 181h1v1h-1zM688 181h1v2h-1zM168 182h1v1h-1zM167 183h1v1h-1zM689 183h1v1h-1zM820 183h1v1h-1zM166 184h1v1h-1zM690 184h1v1h-1zM818 184h2v1h-2zM164 185h2v1h-2zM691 185h1v1h-1zM817 185h1v1h-1zM162 186h2v1h-2zM692 186h1v1h-1zM815 186h2v1h-2zM161 187h1v1h-1zM693 187h1v1h-1zM814 187h1v1h-1zM159 188h2v1h-2zM694 188h2v1h-2zM812 188h2v1h-2zM157 189h2v1h-2zM696 189h1v1h-1zM811 189h1v1h-1zM156 190h1v1h-1zM697 190h1v1h-1zM810 190h1v1h-1zM154 191h2v1h-2zM698 191h2v1h-2zM809 191h1v1h-1zM152 192h2v1h-2zM700 192h1v1h-1zM808 192h1v1h-1zM150 193h2v1h-2zM701 193h2v1h-2zM806 193h2v1h-2zM148 194h2v1h-2zM703 194h2v1h-2zM805 194h1v1h-1zM146 195h2v1h-2zM705 195h2v1h-2zM804 195h1v1h-1zM145 196h1v1h-1zM707 196h2v1h-2zM803 196h1v1h-1zM143 197h2v1h-2zM709 197h2v1h-2zM801 197h2v1h-2zM141 198h2v1h-2zM711 198h3v1h-3zM799 198h2v1h-2zM140 199h1v1h-1zM714 199h2v1h-2zM797 199h2v1h-2zM138 200h2v1h-2zM716 200h3v1h-3zM796 200h1v1h-1zM137 201h1v1h-1zM719 201h2v1h-2zM794 201h2v1h-2zM136 202h1v1h-1zM721 202h2v1h-2zM792 202h2v1h-2zM134 203h2v1h-2zM723 203h2v1h-2zM790 203h2v1h-2zM133 204h1v1h-1zM725 204h1v1h-1zM788 204h2v1h-2zM132 205h1v1h-1zM726 205h1v1h-1zM786 205h2v1h-2zM131 206h1v1h-1zM727 206h1v1h-1zM784 206h2v1h-2zM129 207h2v1h-2zM728 207h2v1h-2zM782 207h2v1h-2zM128 208h1v1h-1zM730 208h1v1h-1zM779 208h3v1h-3zM127 209h1v1h-1zM731 209h1v1h-1zM777 209h2v1h-2zM125 210h2v1h-2zM732 210h3v1h-3zM775 210h2v1h-2zM124 211h1v1h-1zM735 211h4v1h-4zM759 211h16v1h-16zM123 212h1v1h-1zM739 212h20v1h-20zM121 213h2v1h-2zM119 214h2v1h-2zM117 215h2v1h-2zM115 216h2v1h-2zM113 217h2v1h-2zM111 218h2v1h-2zM110 219h1v1h-1zM108 220h2v1h-2zM107 221h1v1h-1zM106 222h1v1h-1zM104 223h2v1h-2zM103 224h1v1h-1zM101 225h2v1h-2zM100 226h1v1h-1zM98 227h2v1h-2zM96 228h2v1h-2zM94 229h2v1h-2zM92 230h2v1h-2zM90 231h2v1h-2zM0 232h2v1h-2zM88 232h2v1h-2zM2 233h2v1h-2zM86 233h2v1h-2zM4 234h2v1h-2zM84 234h2v1h-2zM6 235h2v1h-2zM82 235h2v1h-2zM8 236h2v1h-2zM15 236h5v1h-5zM80 236h2v1h-2zM10 237h5v1h-5zM20 237h4v1h-4zM78 237h2v1h-2zM24 238h2v1h-2zM75 238h3v1h-3zM26 239h2v1h-2zM72 239h3v1h-3zM28 240h2v1h-2zM69 240h3v1h-3zM30 241h2v1h-2zM67 241h2v1h-2zM32 242h4v1h-4zM65 242h2v1h-2zM36 243h4v1h-4zM63 243h2v1h-2zM40 244h7v1h-7zM57 244h6v1h-6zM47 245h10v1h-10z" fill="#7d1fe0"/>
<path d="M228 51h13v1h-13zM249 51h5v1h-5zM226 52h2v1h-2zM241 52h8v1h-8zM254 52h1v2h-1zM225 53h1v1h-1zM223 54h2v1h-2zM255 54h1v2h-1zM221 55h2v1h-2zM220 56h1v1h-1zM256 56h1v1h-1zM219 57h1v2h-1zM257 57h1v2h-1zM218 59h1v1h-1zM258 59h1v1h-1zM217 60h1v1h-1zM259 60h1v1h-1zM216 61h1v2h-1zM260 61h1v2h-1zM215 63h1v1h-1zM261 63h1v1h-1zM214 64h1v1h-1zM262 64h1v1h-1zM213 65h1v2h-1zM263 65h1v2h-1zM212 67h1v1h-1zM264 67h1v1h-1zM211 68h1v1h-1zM265 68h1v1h-1zM210 69h1v2h-1zM266 69h1v1h-1zM267 70h1v1h-1zM209 71h1v1h-1zM268 71h1v1h-1zM208 72h1v1h-1zM269 72h1v1h-1zM207 73h1v2h-1zM270 73h1v1h-1zM271 74h1v2h-1zM206 75h1v1h-1zM205 76h1v2h-1zM272 76h1v2h-1zM204 78h1v2h-1zM273 78h1v1h-1zM274 79h1v2h-1zM203 80h1v2h-1zM275 81h1v2h-1zM202 82h1v2h-1zM276 83h1v1h-1zM201 84h1v2h-1zM277 84h1v2h-1zM200 86h1v4h-1zM278 86h1v2h-1zM279 88h1v2h-1zM199 90h1v4h-1zM280 90h1v1h-1zM281 91h1v2h-1zM337 92h8v1h-8zM282 93h1v2h-1zM331 93h6v1h-6zM345 93h4v1h-4zM198 94h1v3h-1zM328 94h3v1h-3zM349 94h1v1h-1zM283 95h1v2h-1zM325 95h3v1h-3zM350 95h1v1h-1zM323 96h2v1h-2zM351 96h2v1h-2zM197 97h1v2h-1zM284 97h1v1h-1zM322 97h1v1h-1zM353 97h1v1h-1zM285 98h1v1h-1zM321 98h1v1h-1zM354 98h1v1h-1zM196 99h1v2h-1zM286 99h1v1h-1zM320 99h1v1h-1zM355 99h1v1h-1zM287 100h2v1h-2zM318 100h2v1h-2zM356 100h1v1h-1zM195 101h1v2h-1zM289 101h1v1h-1zM317 101h1v1h-1zM357 101h1v2h-1zM290 102h1v1h-1zM316 102h1v1h-1zM194 103h1v3h-1zM291 103h1v1h-1zM315 103h1v1h-1zM358 103h1v1h-1zM292 104h2v1h-2zM314 104h1v1h-1zM359 104h1v1h-1zM294 105h3v1h-3zM312 105h2v1h-2zM360 105h1v2h-1zM193 106h1v4h-1zM297 106h2v1h-2zM310 106h2v1h-2zM299 107h5v1h-5zM308 107h2v1h-2zM361 107h1v1h-1zM304 108h4v1h-4zM362 108h1v1h-1zM363 109h1v2h-1zM192 110h1v3h-1zM364 111h1v1h-1zM365 112h1v2h-1zM191 113h1v4h-1zM366 114h1v1h-1zM367 115h1v2h-1zM190 117h1v4h-1zM368 117h1v1h-1zM369 118h1v2h-1zM428 119h4v1h-4zM370 120h1v1h-1zM427 120h1v1h-1zM432 120h4v1h-4zM189 121h1v3h-1zM371 121h1v2h-1zM425 121h2v1h-2zM436 121h2v1h-2zM424 122h1v1h-1zM438 122h2v1h-2zM372 123h1v1h-1zM423 123h1v1h-1zM440 123h1v1h-1zM188 124h1v2h-1zM373 124h1v2h-1zM421 124h2v1h-2zM441 124h2v1h-2zM494 124h5v1h-5zM420 125h1v1h-1zM443 125h1v1h-1zM483 125h11v1h-11zM499 125h4v1h-4zM187 126h1v3h-1zM374 126h1v1h-1zM418 126h2v1h-2zM444 126h2v1h-2zM481 126h2v1h-2zM503 126h3v1h-3zM375 127h1v2h-1zM417 127h1v1h-1zM446 127h2v1h-2zM480 127h1v1h-1zM506 127h3v1h-3zM416 128h1v1h-1zM448 128h1v1h-1zM478 128h2v1h-2zM509 128h3v1h-3zM186 129h1v2h-1zM376 129h1v1h-1zM414 129h2v1h-2zM449 129h2v1h-2zM476 129h2v1h-2zM512 129h3v1h-3zM377 130h1v2h-1zM413 130h1v1h-1zM451 130h3v1h-3zM474 130h2v1h-2zM515 130h3v1h-3zM185 131h1v2h-1zM411 131h2v1h-2zM454 131h4v1h-4zM472 131h2v1h-2zM518 131h3v1h-3zM378 132h1v1h-1zM410 132h1v1h-1zM458 132h6v1h-6zM469 132h3v1h-3zM521 132h2v1h-2zM184 133h1v3h-1zM379 133h1v1h-1zM409 133h1v1h-1zM464 133h5v1h-5zM523 133h2v1h-2zM380 134h1v1h-1zM408 134h1v1h-1zM525 134h1v1h-1zM381 135h1v1h-1zM407 135h1v1h-1zM526 135h1v1h-1zM183 136h1v2h-1zM382 136h1v2h-1zM406 136h1v1h-1zM527 136h1v1h-1zM405 137h1v1h-1zM528 137h1v1h-1zM182 138h1v3h-1zM383 138h1v1h-1zM404 138h1v1h-1zM529 138h1v2h-1zM384 139h1v1h-1zM403 139h1v1h-1zM385 140h1v1h-1zM402 140h1v1h-1zM530 140h1v1h-1zM181 141h1v2h-1zM386 141h1v1h-1zM400 141h2v1h-2zM531 141h1v1h-1zM387 142h2v1h-2zM398 142h2v1h-2zM532 142h1v1h-1zM180 143h1v3h-1zM389 143h4v1h-4zM396 143h2v1h-2zM533 143h1v1h-1zM393 144h3v1h-3zM534 144h1v1h-1zM535 145h1v1h-1zM179 146h1v3h-1zM536 146h1v1h-1zM537 147h1v2h-1zM178 149h1v2h-1zM538 149h1v1h-1zM539 150h1v1h-1zM177 151h1v3h-1zM540 151h1v1h-1zM541 152h1v1h-1zM542 153h1v1h-1zM176 154h1v2h-1zM543 154h1v2h-1zM618 154h12v1h-12zM616 155h2v1h-2zM630 155h3v1h-3zM175 156h1v2h-1zM544 156h1v1h-1zM613 156h3v1h-3zM633 156h2v1h-2zM545 157h1v1h-1zM611 157h2v1h-2zM635 157h3v1h-3zM174 158h1v2h-1zM546 158h1v1h-1zM610 158h1v1h-1zM638 158h2v1h-2zM547 159h1v2h-1zM608 159h2v1h-2zM640 159h2v1h-2zM173 160h1v2h-1zM607 160h1v1h-1zM642 160h2v1h-2zM548 161h1v2h-1zM606 161h1v1h-1zM644 161h1v1h-1zM172 162h1v2h-1zM604 162h2v1h-2zM645 162h1v1h-1zM549 163h1v2h-1zM603 163h1v1h-1zM646 163h1v1h-1zM171 164h1v1h-1zM602 164h1v1h-1zM647 164h2v1h-2zM170 165h1v2h-1zM550 165h1v2h-1zM601 165h1v2h-1zM649 165h1v1h-1zM650 166h1v1h-1zM818 166h1v1h-1zM169 167h1v1h-1zM551 167h1v2h-1zM600 167h1v1h-1zM651 167h1v1h-1zM817 167h1v1h-1zM168 168h1v1h-1zM599 168h1v1h-1zM652 168h1v1h-1zM816 168h1v1h-1zM167 169h1v1h-1zM552 169h1v3h-1zM598 169h1v2h-1zM653 169h1v1h-1zM815 169h1v1h-1zM166 170h1v2h-1zM654 170h1v2h-1zM814 170h1v2h-1zM597 171h1v1h-1zM165 172h1v1h-1zM553 172h1v2h-1zM596 172h1v1h-1zM655 172h1v1h-1zM813 172h1v1h-1zM164 173h1v1h-1zM595 173h1v2h-1zM656 173h1v1h-1zM812 173h1v1h-1zM163 174h1v1h-1zM554 174h1v3h-1zM657 174h1v1h-1zM811 174h1v1h-1zM162 175h1v1h-1zM594 175h1v1h-1zM658 175h1v2h-1zM810 175h1v2h-1zM161 176h1v1h-1zM593 176h1v1h-1zM160 177h1v1h-1zM555 177h1v2h-1zM592 177h1v2h-1zM659 177h1v1h-1zM809 177h1v2h-1zM159 178h1v1h-1zM660 178h1v1h-1zM158 179h1v1h-1zM556 179h1v1h-1zM591 179h1v2h-1zM661 179h2v1h-2zM808 179h1v1h-1zM157 180h1v1h-1zM557 180h1v1h-1zM663 180h1v1h-1zM807 180h1v2h-1zM155 181h2v1h-2zM558 181h1v2h-1zM590 181h1v2h-1zM664 181h1v1h-1zM153 182h2v1h-2zM665 182h2v1h-2zM806 182h1v2h-1zM150 183h3v1h-3zM559 183h1v1h-1zM589 183h1v2h-1zM667 183h1v1h-1zM148 184h2v1h-2zM560 184h1v1h-1zM668 184h1v1h-1zM805 184h1v2h-1zM146 185h2v1h-2zM561 185h1v1h-1zM588 185h1v1h-1zM669 185h2v1h-2zM145 186h1v1h-1zM562 186h1v1h-1zM586 186h2v1h-2zM671 186h2v1h-2zM804 186h1v1h-1zM143 187h2v1h-2zM563 187h1v1h-1zM585 187h1v1h-1zM673 187h1v1h-1zM802 187h2v1h-2zM141 188h2v1h-2zM564 188h1v1h-1zM583 188h2v1h-2zM674 188h2v1h-2zM800 188h2v1h-2zM140 189h1v1h-1zM565 189h1v1h-1zM581 189h2v1h-2zM676 189h1v1h-1zM798 189h2v1h-2zM138 190h2v1h-2zM566 190h4v1h-4zM577 190h4v1h-4zM677 190h1v1h-1zM796 190h2v1h-2zM137 191h1v1h-1zM570 191h7v1h-7zM678 191h1v1h-1zM794 191h2v1h-2zM135 192h2v1h-2zM679 192h2v1h-2zM793 192h1v1h-1zM134 193h1v1h-1zM681 193h1v1h-1zM791 193h2v1h-2zM132 194h2v1h-2zM682 194h1v1h-1zM789 194h2v1h-2zM130 195h2v1h-2zM683 195h1v1h-1zM788 195h1v1h-1zM129 196h1v1h-1zM684 196h1v1h-1zM786 196h2v1h-2zM127 197h2v1h-2zM685 197h1v1h-1zM784 197h2v1h-2zM124 198h3v1h-3zM686 198h1v1h-1zM782 198h2v1h-2zM119 199h5v1h-5zM687 199h2v1h-2zM779 199h3v1h-3zM116 200h3v1h-3zM689 200h1v1h-1zM777 200h2v1h-2zM113 201h3v1h-3zM690 201h1v1h-1zM774 201h3v1h-3zM110 202h3v1h-3zM691 202h1v1h-1zM772 202h2v1h-2zM108 203h2v1h-2zM692 203h2v1h-2zM770 203h2v1h-2zM106 204h2v1h-2zM694 204h2v1h-2zM768 204h2v1h-2zM105 205h1v1h-1zM696 205h2v1h-2zM766 205h2v1h-2zM104 206h1v1h-1zM698 206h2v1h-2zM764 206h2v1h-2zM102 207h2v1h-2zM700 207h3v1h-3zM762 207h2v1h-2zM101 208h1v1h-1zM703 208h2v1h-2zM760 208h2v1h-2zM100 209h1v1h-1zM705 209h2v1h-2zM758 209h2v1h-2zM98 210h2v1h-2zM707 210h2v1h-2zM756 210h2v1h-2zM97 211h1v1h-1zM709 211h2v1h-2zM754 211h2v1h-2zM96 212h1v1h-1zM711 212h4v1h-4zM752 212h2v1h-2zM94 213h2v1h-2zM715 213h3v1h-3zM750 213h2v1h-2zM93 214h1v1h-1zM718 214h3v1h-3zM747 214h3v1h-3zM92 215h1v1h-1zM721 215h2v1h-2zM745 215h2v1h-2zM91 216h1v1h-1zM723 216h3v1h-3zM742 216h3v1h-3zM90 217h1v1h-1zM726 217h3v1h-3zM739 217h3v1h-3zM88 218h2v1h-2zM729 218h2v1h-2zM735 218h4v1h-4zM87 219h1v1h-1zM731 219h4v1h-4zM86 220h1v1h-1zM85 221h1v1h-1zM84 222h1v1h-1zM83 223h1v1h-1zM82 224h1v1h-1zM81 225h1v1h-1zM80 226h1v2h-1zM79 228h1v1h-1zM78 229h1v1h-1zM77 230h1v1h-1zM76 231h1v1h-1zM74 232h2v1h-2zM72 233h2v1h-2zM70 234h2v1h-2zM68 235h2v1h-2zM67 236h1v1h-1zM66 237h1v2h-1zM65 239h1v1h-1zM64 240h1v1h-1zM0 241h1v1h-1zM63 241h1v2h-1zM1 242h2v1h-2zM3 243h1v1h-1zM62 243h1v1h-1zM4 244h4v1h-4zM43 244h19v1h-19zM8 245h8v1h-8zM35 245h8v1h-8zM16 246h9v1h-9zM31 246h4v1h-4zM25 247h6v1h-6z" fill="#ffa500"/>
<path d="M0 301h3v2h-3zM3 300h4v2h-4zM7 299h5v2h-5zM12 298h4v2h-4zM16 297h4v2h-4zM20 296h4v2h-4zM24 295h4v2h-4zM28 294h4v2h-4zM32 293h4v2h-4zM36 292h4v2h-4zM40 291h4v2h-4zM44 290h4v2h-4zM48 289h5v2h-5zM53 288h4v2h-4zM57 287h4v2h-4zM61 286h4v2h-4zM65 285h4v2h-4zM69 284h4v2h-4zM73 283h4v2h-4zM77 282h4v2h-4zM81 281h4v2h-4zM85 280h4v2h-4zM89 279h5v2h-5zM94 278h4v2h-4zM98 277h4v2h-4zM102 276h4v2h-4zM106 275h4v2h-4zM110 274h4v2h-4zM114 273h4v2h-4zM118 272h4v2h-4zM122 271h4v2h-4zM126 270h4v2h-4zM130 269h5v2h-5zM135 268h4v2h-4zM139 267h4v2h-4zM143 266h4v2h-4zM147 265h4v2h-4zM151 264h4v2h-4zM155 263h4v2h-4zM159 262h4v2h-4zM163 261h4v2h-4zM167 260h4v2h-4zM171 259h5v2h-5zM176 258h4v2h-4zM180 257h4v2h-4zM184 256h4v2h-4zM188 255h4v2h-4zM192 254h4v2h-4zM196 253h4v2h-4zM200 252h4v2h-4zM204 251h4v2h-4zM208 250h4v2h-4zM212 249h4v2h-4zM216 248h5v2h-5zM221 247h4v2h-4zM225 246h4v2h-4zM229 245h4v2h-4zM233 244h4v2h-4zM237 243h4v2h-4zM241 242h4v2h-4z" fill="#f00"/>
<rect x="0" y="164" width="841" height="2" fill="#f00"/>
<rect x="0" y="426" width="841" height="2" fill="#f00"/>
<rect x="839" y="0" width="1" height="447" fill="#000"/>
<rect x="840" y="-3" width="2" height="1" fill="#000"/>
<text x="845" y="1" font-family="Liberation Sans, sans-serif" font-size="10" textLength="33" lengthAdjust="spacingAndGlyphs" text-rendering="geometricPrecision" stroke-width="0.2" fill="#000" stroke="#000">158.280</text>
<rect x="840" y="30" width="2" height="1" fill="#000"/>
<text x="845" y="34" font-family="Liberation Sans, sans-serif" font-size="10" textLength="33" lengthAdjust="spacingAndGlyphs" text-rendering="geometricPrecision" stroke-width="0.2" fill="#000" stroke="#000">157.770</text>
<rect x="840" y="63" width="2" height="1" fill="#000"/>
<text x="845" y="67" font-family="Liberation Sans, sans-serif" font-size="10" textLength="33" lengthAdjust="spacingAndGlyphs" text-rendering="geometricPrecision" stroke-width="0.2" fill="#000" stroke="#000">157.275</text>
<rect x="840" y="96" width="2" height="1" fill="#000"/>
<text x="845" y="100" font-family="Liberation Sans, sans-serif" font-size="10" textLength="33" lengthAdjust="spacingAndGlyphs" text-rendering="geometricPrecision" stroke-width="0.2" fill="#000" stroke="#000">156.765</text>
<rect x="840" y="129" width="2" height="1" fill="#000"/>
<text x="845" y="133" font-family="Liberation Sans, sans-serif" font-size="10" textLength="33" lengthAdjust="spacingAndGlyphs" text-rendering="geometricPrecision" stroke-width="0.2" fill="#000" stroke="#000">156.270</text>
<rect x="840" y="195" width="2" height="1" fill="#000"/>
<text x="845" y="199" font-family="Liberation Sans, sans-serif" font-size="10" textLength="33" lengthAdjust="spacingAndGlyphs" text-rendering="geometricPrecision" stroke-width="0.2" fill="#000" stroke="#000">155.250</text>
<rect x="840" y="228" width="2" height="1" fill="#000"/>
<text x="845" y="232" font-family="Liberation Sans, sans-serif" font-size="10" textLength="33" lengthAdjust="spacingAndGlyphs" text-rendering="geometricPrecision" stroke-width="0.2" fill="#000" stroke="#000">154.755</text>
<rect x="840" y="261" width="2" height="1" fill="#000"/>
<text x="845" y="265" font-family="Liberation Sans, sans-serif" font-size="10" textLength="33" lengthAdjust="spacingAndGlyphs" text-rendering="geometricPrecision" stroke-width="0.2" fill="#000" stroke="#000">154.245</text>
<rect x="840" y="294" width="2" height="1" fill="#000"/>
<text x="845" y="298" font-family="Liberation Sans, sans-serif" font-size="10" textLength="33" lengthAdjust="spacingAndGlyphs" text-rendering="geometricPrecision" stroke-width="0.2" fill="#000" stroke="#000">153.735</text>
<rect x="840" y="327" width="2" height="1" fill="#000"/>
<text x="845" y="331" font-family="Liberation Sans, sans-serif" font-size="10" textLength="33" lengthAdjust="spacingAndGlyphs" text-rendering="geometricPrecision" stroke-width="0.2" fill="#000" stroke="#000">153.240</text>
<rect x="840" y="360" width="2" height="1" fill="#000"/>
<text x="845" y="364" font-family="Liberation Sans, sans-serif" font-size="10" textLength="33" lengthAdjust="spacingAndGlyphs" text-rendering="geometricPrecision" stroke-width="0.2" fill="#000" stroke="#000">152.730</text>
<rect x="840" y="393" width="2" height="1" fill="#000"/>
<text x="845" y="397" font-family="Liberation Sans, sans-serif" font-size="10" textLength="33" lengthAdjust="spacingAndGlyphs" text-rendering="geometricPrecision" stroke-width="0.2" fill="#000" stroke="#000">152.220</text>
<rect x="841" y="151" width="41" height="11" fill="#000"/>
<text x="845" y="160" font-family="Liberation Sans, sans-serif" font-size="10" textLength="33" lengthAdjust="spacingAndGlyphs" text-rendering="geometricPrecision" stroke-width="0.2" fill="#fff" stroke="#fff">155.855</text>
<rect x="841" y="159" width="41" height="11" fill="#f00"/>
<text x="845" y="168" font-family="Liberation Sans, sans-serif" font-size="10" textLength="33" lengthAdjust="spacingAndGlyphs" text-rendering="geometricPrecision" stroke-width="0.2" fill="#fff" stroke="#fff">155.709</text>
<rect x="841" y="421" width="41" height="11" fill="#f00"/>
<text x="845" y="430" font-family="Liberation Sans, sans-serif" font-size="10" textLength="33" lengthAdjust="spacingAndGlyphs" text-rendering="geometricPrecision" stroke-width="0.2" fill="#fff" stroke="#fff">151.712</text>
<text y="39.8" font-family="Liberation Sans, Noto Sans CJK SC, sans-serif" font-size="25.4" fill="#505050" text-rendering="geometricPrecision"><tspan x="23.1">美</tspan><tspan x="47.5">日</tspan><tspan x="71.4" y="38.9" font-size="26.1">4</tspan><tspan x="85.8" y="38.9" font-size="26.1">H</tspan></text>
</svg>
</body></html>
